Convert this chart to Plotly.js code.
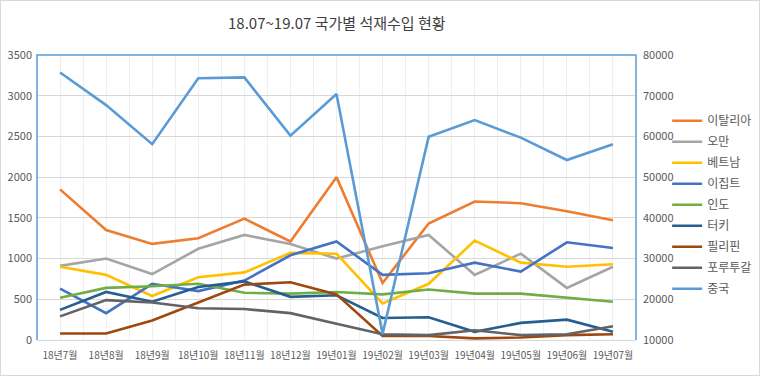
<!DOCTYPE html>
<html><head><meta charset="utf-8">
<script src="https://cdn.plot.ly/plotly-3.0.1.min.js"></script>
<style>body{margin:0;padding:0;background:#fff}#chart{width:758px;height:374px;border:1px solid #D9D9D9}</style>
</head><body><div id="chart"></div>
<script>
const months = ["18년7월","18년8월","18년9월","18년10월","18년11월","18년12월","19년01월","19년02월","19년03월","19년04월","19년05월","19년06월","19년07월"];
const italy    = [1850,1350,1180,1250,1490,1210,2000,700,1430,1700,1680,1580,1470];
const oman     = [910,1000,810,1120,1290,1180,1000,1150,1290,800,1060,640,900];
const vietnam  = [900,800,540,770,830,1070,1060,450,690,1220,950,900,930];
const egypt    = [630,330,690,600,730,1040,1210,800,820,950,840,1200,1130];
const india    = [520,640,660,690,580,570,590,560,620,570,570,520,470];
const turkey   = [370,590,470,650,720,530,550,270,280,100,210,250,100];
const philippines = [80,80,240,460,680,710,560,50,50,20,30,60,70];
const portugal = [290,490,460,390,380,330,200,70,60,120,60,70,170];
const china    = [75700,67700,58100,74300,74500,60200,70400,11500,59900,64000,59700,54200,58100];

const names  = ["이탈리아","오만","베트남","이집트","인도","터키","필리핀","포루투갈","중국"];
const colors = ["#ED7D31","#A5A5A5","#FFC000","#4472C4","#70AD47","#255E91","#9E480E","#636363","#5B9BD5"];
const series = [italy,oman,vietnam,egypt,india,turkey,philippines,portugal,china];
const xIdx = months.map((m,i)=>i);

const traces = series.map((s,k)=>({
  x: xIdx, y: s, name: names[k], type:'scatter', mode:'lines',
  line:{color:colors[k], width:2.6}, legendgroup:'g'+k,
  yaxis: k===8 ? 'y2' : 'y'
}));
const fontFam = '"Noto Sans CJK KR", "Noto Sans", sans-serif';
const layout = {
  width:758, height:374,
  margin:{l:36, r:123, t:54, b:35, autoexpand:false},
  paper_bgcolor:'#fff', plot_bgcolor:'#fff',
  font:{family:fontFam, color:'#595959', size:11},
  title:{text:'18.07~19.07 국가별 석재수입 현황', font:{size:15, color:'#404040', family:fontFam},
         xref:'container', yref:'container', x:0.443, xanchor:'center', y:0.94, yanchor:'middle'},
  showlegend:true,
  legend:{x:1.052, xanchor:'left', y:0.82, yanchor:'top', traceorder:'grouped', tracegroupgap:2,
          font:{size:12, color:'#595959', family:fontFam}, bgcolor:'rgba(0,0,0,0)', itemwidth:30},
  xaxis:{type:'linear', range:[-0.5,12.5], tickmode:'array', tickvals:xIdx, ticktext:months,
         showgrid:true, gridcolor:'#EFEFEF', gridwidth:1, zeroline:false, tickangle:0,
         minor:{tick0:0.5, dtick:1, showgrid:true, gridcolor:'#EFEFEF', gridwidth:1},
         showline:true, linecolor:'#D9D9D9', linewidth:1, ticks:'', tickfont:{size:10, color:'#595959'},
         ticklabelstandoff:6, fixedrange:true, automargin:false},
  yaxis:{range:[0,3500], dtick:500, tick0:0, showgrid:true, gridcolor:'#D9D9D9', gridwidth:1, automargin:false,
         zeroline:false, showline:false, ticks:'', tickfont:{size:11, color:'#595959'}, ticklabelstandoff:4},
  yaxis2:{range:[10000,80000], dtick:10000, tick0:10000, overlaying:'y', side:'right', showgrid:false, automargin:false,
          tickformat:'d', zeroline:false, showline:false, ticks:'', tickfont:{size:11, color:'#595959'}, ticklabelstandoff:6},
  shapes:[{type:'path', xref:'paper', yref:'paper', path:'M 0 0 L 0 1 L 1 1 L 1 0',
           line:{color:'#5B9BD5', width:1.5}, layer:'above'}]
};
Plotly.newPlot('chart', traces, layout, {displayModeBar:false, staticPlot:true});
</script></body></html>
